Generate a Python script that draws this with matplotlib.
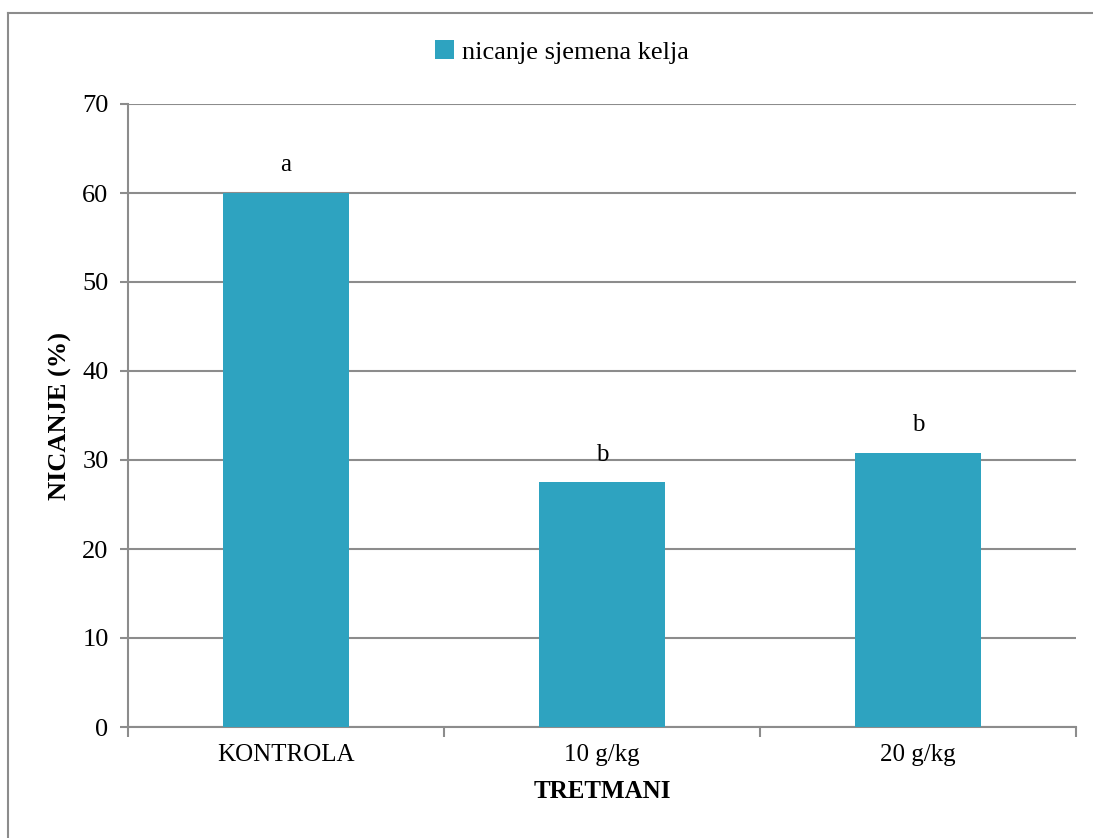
import matplotlib.pyplot as plt
from matplotlib.lines import Line2D

treatments = ["KONTROLA", "10 g/kg", "20 g/kg"]
emergence = [60.0, 27.5, 30.8]
letters = ["a", "b", "b"]
series_name = "nicanje sjemena kelja"

plt.rcParams['font.family'] = ['Liberation Serif', 'DejaVu Serif']
bar_color = '#2EA3C0'
grid_color = '#8c8c8c'

fig = plt.figure(figsize=(10.93, 8.38), dpi=100)
W, H = 1093, 838
ax = fig.add_axes([128 / W, 1 - 727 / H, (1076 - 128) / W, (727 - 104) / H])

x = list(range(len(treatments)))
bars = ax.bar(x, emergence, width=0.4, color=bar_color, label=series_name, zorder=3)

for xi, val, lab in zip(x, emergence, letters):
    ax.annotate(lab, (xi, val), xytext=(0, 12), textcoords='offset points',
                ha='center', va='bottom', fontsize=18)

ax.set_xlim(-0.5, len(treatments) - 0.5)
ax.set_ylim(0, 70)
ax.set_yticks(range(0, 71, 10))
ax.yaxis.grid(True, color=grid_color, linewidth=1.5, zorder=0)
ax.set_axisbelow(True)

# category labels centred, ticks between categories
ax.set_xticks(x)
ax.set_xticklabels(treatments, fontsize=18)
ax.tick_params(axis='x', which='major', length=0, pad=12)
ax.set_xticks([i - 0.5 for i in range(len(treatments) + 1)], minor=True)
ax.tick_params(axis='x', which='minor', length=7, width=1.5, color=grid_color, direction='out')
ax.tick_params(axis='y', length=6, width=1.5, color=grid_color, labelsize=19, pad=8)

for s in ['top', 'right']:
    ax.spines[s].set_visible(False)
for s in ['left', 'bottom']:
    ax.spines[s].set_color(grid_color)
    ax.spines[s].set_linewidth(1.5)

ax.set_xlabel("TRETMANI", fontsize=18, fontweight='bold', labelpad=10)
ax.set_ylabel("NICANJE (%)", fontsize=19, fontweight='bold', labelpad=7)

fig.legend(handles=[bars], labels=[series_name], loc='center',
           bbox_to_anchor=(562 / W, 1 - 52 / H), frameon=False, fontsize=19,
           handlelength=0.7, handleheight=0.7, handletextpad=0.3)

# chart frame: only top and left edges are visible in the crop
fx, fy = 8 / W, 1 - 13 / H
fig.lines.append(Line2D([fx, 1], [fy, fy], transform=fig.transFigure,
                        color=grid_color, linewidth=1.5))
fig.lines.append(Line2D([fx, fx], [0, fy], transform=fig.transFigure,
                        color=grid_color, linewidth=1.5))

fig.savefig("out.png", dpi=100)
